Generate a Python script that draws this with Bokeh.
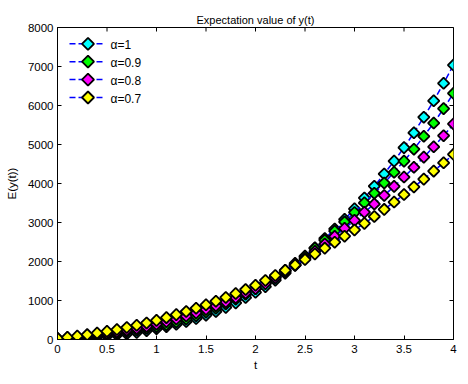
from bokeh.plotting import figure
from bokeh.models import FixedTicker, NumeralTickFormatter, Range1d
from bokeh.core.properties import value
from bokeh.embed import file_html
from bokeh.resources import INLINE

t = [0.0, 0.1, 0.2, 0.3, 0.4, 0.5, 0.6, 0.7, 0.8, 0.9,
     1.0, 1.1, 1.2, 1.3, 1.4, 1.5, 1.6, 1.7, 1.8, 1.9,
     2.0, 2.1, 2.2, 2.3, 2.4, 2.5, 2.6, 2.7, 2.8, 2.9,
     3.0, 3.1, 3.2, 3.3, 3.4, 3.5, 3.6, 3.7, 3.8, 3.9, 4.0]

y_alpha_1 = [10, 20, 32, 47, 66, 89, 116, 147, 183, 226,
             275, 330, 390, 460, 538, 624, 718, 822, 937, 1075,
             1210, 1355, 1520, 1700, 1900, 2120, 2350, 2590, 2835, 3080,
             3350, 3630, 3930, 4245, 4575, 4920, 5300, 5700, 6120, 6570, 7038]

y_alpha_09 = [20, 34, 52, 74, 100, 130, 164, 200, 238, 282,
              328, 380, 448, 524, 608, 700, 800, 910, 1030, 1160,
              1300, 1448, 1606, 1774, 1952, 2140, 2338, 2546, 2780, 3015,
              3258, 3505, 3752, 4014, 4288, 4574, 4880, 5210, 5550, 5920, 6313]

y_alpha_08 = [25, 43, 65, 91, 121, 155, 193, 235, 281, 333,
              391, 455, 525, 601, 683, 771, 865, 965, 1071, 1190,
              1305, 1432, 1580, 1740, 1909, 2081, 2261, 2449, 2645, 2849,
              3055, 3264, 3474, 3694, 3926, 4166, 4416, 4676, 4942, 5226, 5526]

y_alpha_07 = [30, 56, 88, 124, 164, 208, 256, 308, 364, 424,
              490, 562, 638, 718, 802, 890, 982, 1078, 1178, 1282,
              1390, 1514, 1642, 1774, 1910, 2050, 2194, 2342, 2494, 2648,
              2808, 2978, 3154, 3336, 3524, 3716, 3912, 4112, 4318, 4530, 4749]

series_labels = ["\u03b1=1", "\u03b1=0.9", "\u03b1=0.8", "\u03b1=0.7"]
series_values = [y_alpha_1, y_alpha_09, y_alpha_08, y_alpha_07]
face_colors = ["#00FFFF", "#00FF00", "#FF00FF", "#FFFF00"]

x_ticks = [0, 0.5, 1, 1.5, 2, 2.5, 3, 3.5, 4]
y_ticks = [0, 1000, 2000, 3000, 4000, 5000, 6000, 7000, 8000]
x_min, x_max = 0, 4
y_min, y_max = 0, 8000

FONT = "Liberation Sans"
FRAME_W, FRAME_H = 396, 312
LINE_COLOR = "#0000FF"
LINE_DASH = "6 3"

# legend layout in frame pixels (from the frame's bottom-left corner)
LEG_LINE_X0, LEG_LINE_X1 = 12, 47
LEG_MARK_X = 30.5
LEG_TEXT_X = 53
LEG_ROW_Y0 = FRAME_H - 16.3
LEG_ROW_STEP = 17.9

p = figure(frame_width=FRAME_W, frame_height=FRAME_H,
           x_range=Range1d(x_min, x_max), y_range=Range1d(y_min, y_max),
           output_backend="svg", toolbar_location=None,
           min_border_left=57, min_border_right=13,
           min_border_top=27, min_border_bottom=43,
           title="Expectation value of y(t)")
p.extra_x_ranges = {"px": Range1d(0, FRAME_W)}
p.extra_y_ranges = {"px": Range1d(0, FRAME_H)}

p.title.align = "center"
p.title.text_font = FONT
p.title.text_font_size = "11px"
p.title.text_font_style = "normal"
p.title.text_color = "black"
p.title.standoff = 4
p.grid.visible = False
p.outline_line_color = "black"
p.outline_line_width = 1
p.background_fill_color = "white"
p.border_fill_color = "white"

xb = p.below[0]
yl = p.left[0]
xb.axis_label = "t"
yl.axis_label = "E(y(t))"

for ax, ticks in ((xb, x_ticks), (yl, y_ticks)):
    ax.ticker = FixedTicker(ticks=ticks)
    ax.major_tick_in = 4
    ax.major_tick_out = 0
    ax.minor_tick_line_color = None
    ax.axis_line_color = "black"
    ax.major_tick_line_color = "black"
    ax.major_label_text_font = FONT
    ax.major_label_text_font_size = "11.5px"
    ax.major_label_text_color = "black"
    ax.axis_label_text_font = FONT
    ax.axis_label_text_font_size = "11.5px"
    ax.axis_label_text_font_style = "normal"
    ax.axis_label_text_color = "black"

xb.formatter = NumeralTickFormatter(format="0.[0]")
xb.major_label_standoff = 5
xb.axis_label_standoff = 3
yl.major_label_standoff = 4
yl.axis_label_standoff = 7

# mirrored inward tick marks on the top and right edges of the box
p.scatter(x_ticks, [y_max] * len(x_ticks), marker="dash", angle=1.5707963, size=8,
          line_color="black", line_width=1)
p.scatter([x_max] * len(y_ticks), y_ticks, marker="dash", size=8,
          line_color="black", line_width=1)

for vals, col in zip(series_values, face_colors):
    p.line(t, vals, line_color=LINE_COLOR, line_dash=LINE_DASH, line_width=1.5)
    p.scatter(t, vals, marker="square", angle=0.7853981634, size=8,
              fill_color=col, line_color="black", line_width=1.8)

# legend (no box), drawn in frame pixel coordinates
for i, (label, col) in enumerate(zip(series_labels, face_colors)):
    yy = LEG_ROW_Y0 - i * LEG_ROW_STEP
    p.line([LEG_LINE_X0, LEG_LINE_X1], [yy, yy], x_range_name="px", y_range_name="px",
           line_color=LINE_COLOR, line_dash=LINE_DASH, line_width=1.5)
    p.scatter([LEG_MARK_X], [yy], x_range_name="px", y_range_name="px",
              marker="square", angle=0.7853981634, size=8.5,
              fill_color=col, line_color="black", line_width=1.8)
    p.text([LEG_TEXT_X], [yy - 1], text=[label], x_range_name="px", y_range_name="px",
           text_font=value(FONT), text_font_size="12px", text_color="black",
           text_align="left", text_baseline="middle")

open("out.html", "w").write(file_html(p, INLINE))
